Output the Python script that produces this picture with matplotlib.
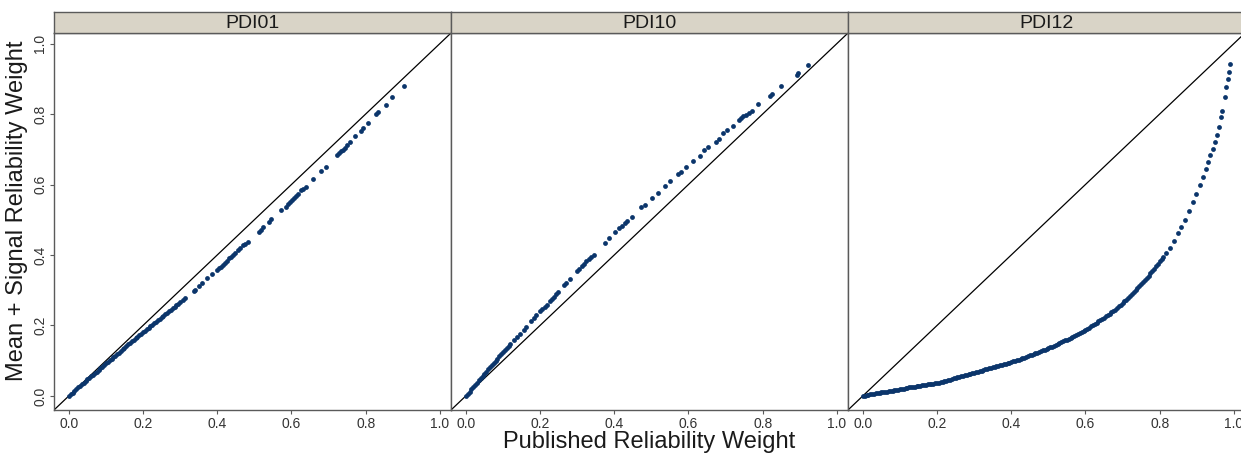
import matplotlib
matplotlib.use("Agg")
import matplotlib.pyplot as plt

plt.rcParams['font.family'] = ['Liberation Sans', 'DejaVu Sans']

panel_names = ["PDI01", "PDI10", "PDI12"]

# PDI01: published weight vs mean + signal weight
pdi01_x = [0.00, 0.005, 0.01, 0.015, 0.02, 0.025, 0.03, 0.035, 0.04, 0.045, 0.05, 0.055,
           0.06, 0.065, 0.07, 0.08, 0.09, 0.10, 0.11, 0.12, 0.13, 0.14, 0.15, 0.16,
           0.17, 0.18, 0.19, 0.20, 0.21, 0.22, 0.23, 0.24, 0.25, 0.26, 0.27, 0.28,
           0.29, 0.30,
           0.307, 0.312, 0.336, 0.339, 0.352, 0.359, 0.373, 0.386, 0.400, 0.405,
           0.411, 0.416, 0.420, 0.426, 0.433, 0.438, 0.442, 0.449, 0.456, 0.462,
           0.469, 0.476, 0.483, 0.512, 0.517, 0.523, 0.539, 0.546, 0.573, 0.584,
           0.590, 0.596, 0.601, 0.607, 0.612, 0.618, 0.627, 0.632, 0.638, 0.658,
           0.679, 0.692, 0.724, 0.728, 0.733, 0.738, 0.744, 0.750, 0.758, 0.771,
           0.788, 0.794, 0.805, 0.828, 0.834, 0.854, 0.872, 0.902]
pdi01_y = [0.000, 0.005, 0.009, 0.014, 0.019, 0.024, 0.028, 0.033, 0.038, 0.042, 0.047, 0.051,
           0.056, 0.060, 0.065, 0.074, 0.083, 0.092, 0.101, 0.110, 0.119, 0.128, 0.137, 0.146,
           0.155, 0.163, 0.172, 0.181, 0.190, 0.198, 0.207, 0.215, 0.224, 0.232, 0.240, 0.249,
           0.257, 0.266,
           0.273, 0.277, 0.297, 0.300, 0.313, 0.320, 0.334, 0.346, 0.358, 0.362,
           0.367, 0.372, 0.377, 0.383, 0.391, 0.395, 0.400, 0.407, 0.414, 0.420,
           0.427, 0.432, 0.438, 0.466, 0.472, 0.480, 0.494, 0.501, 0.528, 0.537,
           0.544, 0.550, 0.556, 0.562, 0.567, 0.573, 0.584, 0.588, 0.592, 0.615,
           0.637, 0.650, 0.684, 0.688, 0.694, 0.699, 0.705, 0.712, 0.720, 0.737,
           0.753, 0.760, 0.774, 0.801, 0.807, 0.827, 0.847, 0.880]
# extra points in the packed part of PDI01
pdi01_dense_x = [0.075, 0.085, 0.095, 0.105, 0.115, 0.125, 0.135, 0.145, 0.155, 0.165,
                 0.175, 0.185, 0.195, 0.205, 0.215, 0.225, 0.235, 0.245, 0.255, 0.265,
                 0.275, 0.285, 0.295]
pdi01_dense_y = [0.069, 0.078, 0.087, 0.096, 0.105, 0.114, 0.123, 0.132, 0.141, 0.150,
                 0.159, 0.168, 0.176, 0.185, 0.194, 0.202, 0.211, 0.219, 0.228, 0.236,
                 0.245, 0.253, 0.261]

# PDI10
pdi10_x = [0.00, 0.005, 0.01, 0.015, 0.02, 0.025, 0.03, 0.035, 0.04, 0.045, 0.05, 0.055,
           0.06, 0.065, 0.07, 0.075, 0.08, 0.085, 0.09, 0.095, 0.10, 0.105, 0.11, 0.115, 0.12,
           0.130, 0.138, 0.145, 0.157, 0.163, 0.175, 0.184, 0.190, 0.200, 0.206,
           0.213, 0.220, 0.226, 0.232, 0.238, 0.242, 0.248, 0.264, 0.270, 0.282,
           0.300, 0.305, 0.312, 0.318, 0.325, 0.332, 0.338, 0.345, 0.374, 0.385,
           0.401, 0.412, 0.421, 0.428, 0.435, 0.448, 0.472, 0.482, 0.502, 0.517,
           0.538, 0.549, 0.573, 0.580, 0.594, 0.612, 0.632, 0.642, 0.654, 0.675,
           0.681, 0.694, 0.705, 0.721, 0.737, 0.742, 0.748, 0.755, 0.762, 0.771,
           0.788, 0.820, 0.824, 0.849, 0.892, 0.896, 0.923]
pdi10_y = [0.000, 0.006, 0.012, 0.019, 0.025, 0.031, 0.037, 0.044, 0.050, 0.056, 0.062, 0.069,
           0.075, 0.081, 0.087, 0.093, 0.099, 0.106, 0.112, 0.118, 0.124, 0.130, 0.136, 0.142, 0.148,
           0.160, 0.168, 0.176, 0.188, 0.196, 0.212, 0.222, 0.229, 0.240, 0.247,
           0.253, 0.259, 0.268, 0.275, 0.282, 0.289, 0.294, 0.314, 0.320, 0.332,
           0.355, 0.360, 0.368, 0.374, 0.382, 0.388, 0.394, 0.401, 0.433, 0.447,
           0.464, 0.477, 0.483, 0.490, 0.497, 0.508, 0.535, 0.541, 0.563, 0.577,
           0.596, 0.609, 0.629, 0.636, 0.650, 0.668, 0.682, 0.697, 0.706, 0.722,
           0.728, 0.746, 0.756, 0.767, 0.784, 0.788, 0.794, 0.798, 0.803, 0.810,
           0.829, 0.852, 0.857, 0.879, 0.912, 0.916, 0.939]
pdi10_dense_x = []
pdi10_dense_y = []

# PDI12
pdi12_x = [0.00, 0.01, 0.02, 0.03, 0.04, 0.05, 0.06, 0.07, 0.08, 0.09, 0.10, 0.11,
           0.12, 0.13, 0.14, 0.15, 0.16, 0.17, 0.18, 0.19, 0.20, 0.21, 0.22, 0.23,
           0.24, 0.25, 0.26, 0.27, 0.28, 0.29, 0.30, 0.31, 0.32, 0.33, 0.34, 0.35,
           0.36, 0.37, 0.38, 0.39, 0.40, 0.41, 0.42, 0.43, 0.44, 0.45, 0.46, 0.47,
           0.48, 0.49, 0.50, 0.51, 0.52, 0.53, 0.54, 0.55, 0.56, 0.57, 0.58, 0.59,
           0.60, 0.61, 0.62, 0.63, 0.64, 0.65, 0.66, 0.67, 0.68, 0.69, 0.70, 0.71,
           0.72, 0.73, 0.74, 0.75, 0.76, 0.77, 0.78, 0.79, 0.80, 0.81, 0.818,
           0.827, 0.838, 0.849, 0.858, 0.867, 0.879, 0.890, 0.899, 0.908, 0.917,
           0.924, 0.931, 0.937, 0.944, 0.948, 0.954, 0.960, 0.965, 0.969, 0.975,
           0.980, 0.984, 0.987, 0.990]
pdi12_y = [0.000, 0.002, 0.004, 0.006, 0.008, 0.010, 0.011, 0.013, 0.015, 0.017, 0.019, 0.021,
           0.023, 0.025, 0.026, 0.028, 0.030, 0.032, 0.033, 0.035, 0.037, 0.039, 0.042, 0.045,
           0.048, 0.051, 0.054, 0.057, 0.060, 0.063, 0.066, 0.069, 0.072, 0.075, 0.078, 0.081,
           0.084, 0.087, 0.090, 0.093, 0.096, 0.100, 0.103, 0.107, 0.111, 0.115, 0.119, 0.123,
           0.127, 0.131, 0.136, 0.140, 0.145, 0.150, 0.155, 0.160, 0.165, 0.170, 0.176, 0.182,
           0.188, 0.194, 0.201, 0.208, 0.215, 0.222, 0.229, 0.237, 0.245, 0.254, 0.263, 0.273,
           0.284, 0.296, 0.307, 0.318, 0.329, 0.341, 0.354, 0.368, 0.382, 0.393, 0.405,
           0.419, 0.440, 0.461, 0.480, 0.499, 0.524, 0.551, 0.574, 0.598, 0.621,
           0.643, 0.664, 0.683, 0.701, 0.720, 0.741, 0.763, 0.791, 0.810, 0.847,
           0.876, 0.899, 0.918, 0.942]
# extra points in the packed part of PDI12
pdi12_dense_x = [0.005, 0.015, 0.025, 0.035, 0.045, 0.055, 0.065, 0.075, 0.085, 0.095,
                 0.105, 0.115, 0.125, 0.135, 0.145, 0.155, 0.165, 0.175, 0.185, 0.195,
                 0.205, 0.215, 0.225, 0.235, 0.245, 0.255, 0.265, 0.275, 0.285, 0.295,
                 0.305, 0.315, 0.325, 0.335, 0.345, 0.355, 0.365, 0.375, 0.385, 0.395,
                 0.405, 0.415, 0.425, 0.435, 0.445, 0.455, 0.465, 0.475, 0.485, 0.495,
                 0.505, 0.515, 0.525, 0.535, 0.545, 0.555, 0.565, 0.575, 0.585, 0.595,
                 0.605, 0.615, 0.625, 0.635, 0.645, 0.655, 0.665, 0.675, 0.685, 0.695,
                 0.705, 0.715, 0.725, 0.735, 0.745, 0.755, 0.765, 0.775, 0.785, 0.795,
                 0.805]
pdi12_dense_y = [0.001, 0.003, 0.005, 0.007, 0.009, 0.0105, 0.012, 0.014, 0.016, 0.018,
                 0.020, 0.022, 0.024, 0.0255, 0.027, 0.029, 0.031, 0.0325, 0.034, 0.036,
                 0.038, 0.0405, 0.0435, 0.0465, 0.0495, 0.0525, 0.0555, 0.0585, 0.0615, 0.0645,
                 0.0675, 0.0705, 0.0735, 0.0765, 0.0795, 0.0825, 0.0855, 0.0885, 0.0915, 0.0945,
                 0.098, 0.1015, 0.105, 0.109, 0.113, 0.117, 0.121, 0.125, 0.129, 0.1335,
                 0.138, 0.1425, 0.1475, 0.1525, 0.1575, 0.1625, 0.1675, 0.173, 0.179, 0.185,
                 0.191, 0.1975, 0.2045, 0.2115, 0.2185, 0.2255, 0.233, 0.241, 0.2495, 0.2585,
                 0.268, 0.2785, 0.290, 0.3015, 0.3125, 0.3235, 0.335, 0.3475, 0.361, 0.375,
                 0.3875]

panel_data = [(pdi01_x + pdi01_dense_x, pdi01_y + pdi01_dense_y),
              (pdi10_x + pdi10_dense_x, pdi10_y + pdi10_dense_y),
              (pdi12_x + pdi12_dense_x, pdi12_y + pdi12_dense_y)]
tick_vals = [0.0, 0.2, 0.4, 0.6, 0.8, 1.0]
tick_labels = ["0.0", "0.2", "0.4", "0.6", "0.8", "1.0"]

W, H = 1241, 455
fig = plt.figure(figsize=(W / 100, H / 100), dpi=100)

edge = "#5a5a5a"
strip_col = "#d9d4c7"
dot_col = "#0b356b"
lims = (-0.04, 1.03)

left_px = [54, 451, 848]
pw = 397
top_px, bot_px = 33, 410
strip_top = 12

for i, name in enumerate(panel_names):
    l = left_px[i] / W
    b = 1 - bot_px / H
    h = (bot_px - top_px) / H
    ax = fig.add_axes([l, b, pw / W, h])
    xs, ys = panel_data[i]
    ax.plot(lims, lims, color="black", lw=0.9, zorder=1)
    ax.scatter(xs, ys, s=12, color=dot_col, linewidths=0, zorder=2)
    ax.set_xlim(lims)
    ax.set_ylim(lims)
    ax.set_xticks(tick_vals)
    ax.set_xticklabels(tick_labels)
    ax.tick_params(axis="x", length=3, width=0.8, color=edge, labelcolor="#333333",
                   labelsize=10, pad=2)
    if i == 0:
        ax.set_yticks(tick_vals)
        ax.set_yticklabels(tick_labels, rotation=90, va="center")
        ax.tick_params(axis="y", length=3, width=0.8, color=edge, labelcolor="#333333",
                       labelsize=10, pad=2)
    else:
        ax.set_yticks([])
    for sp in ax.spines.values():
        sp.set_color(edge)
        sp.set_linewidth(1.0)

    # strip on top of each panel
    sax = fig.add_axes([l, 1 - top_px / H, pw / W, (top_px - strip_top) / H])
    sax.set_facecolor(strip_col)
    sax.set_xticks([])
    sax.set_yticks([])
    for sp in sax.spines.values():
        sp.set_color(edge)
        sp.set_linewidth(1.0)
    sax.text(0.5, 0.45, name, ha="center", va="center", fontsize=14,
             color="#1a1a1a", transform=sax.transAxes)

fig.text((54 + 1245) / 2 / W, 1 - 442 / H, "Published Reliability Weight",
         ha="center", va="center", fontsize=17, color="#1a1a1a")
fig.text(17 / W, 1 - 211 / H, "Mean + Signal Reliability Weight",
         ha="center", va="center", rotation=90, fontsize=17, color="#1a1a1a")

fig.savefig("out.png", dpi=100)
